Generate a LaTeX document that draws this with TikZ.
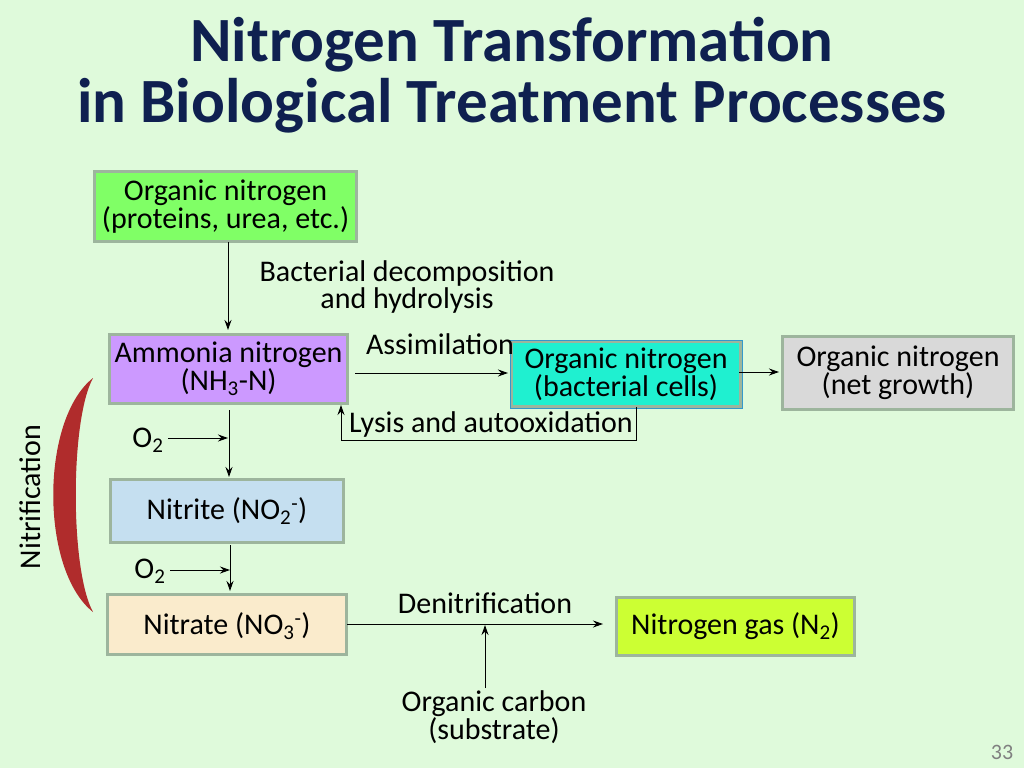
\documentclass[tikz,border=0pt]{standalone}
\usepackage{fontspec}
\setmainfont{Carlito}
\usetikzlibrary{arrows.meta}
\definecolor{bg}{HTML}{DFFADB}
\definecolor{navy}{HTML}{0F2050}
\definecolor{shad}{HTML}{9DB59D}
\definecolor{cgreen}{HTML}{80FF66}
\definecolor{cviolet}{RGB}{204,153,255}
\definecolor{cteal}{RGB}{31,240,208}
\definecolor{cblueb}{HTML}{3399CC}
\definecolor{cgrey}{RGB}{217,217,217}
\definecolor{cblue}{RGB}{197,223,240}
\definecolor{ctan}{RGB}{250,235,204}
\definecolor{clime}{RGB}{204,255,51}
\definecolor{cred}{RGB}{176,44,44}
\begin{document}
\begin{tikzpicture}[x=1pt,y=-1pt,
  box/.style={draw=shad,line width=3pt,inner sep=0pt,anchor=north west,align=center},
  lab/.style={align=center,font=\fontsize{30}{25}\selectfont,inner sep=0pt},
  arr/.style={-{Stealth[length=10pt,width=7pt]},line width=1pt}]
\useasboundingbox[fill=bg] (0,0) rectangle (1024,768);
\node[font=\bfseries\fontsize{63}{63}\selectfont,text=navy] (t1) at (512,45) {Nitrogen Transformation};
\node[font=\bfseries\fontsize{63}{63}\selectfont,text=navy] (t2) at (512,106) {in Biological Treatment Processes};
\node[box,fill=cgreen,minimum width=262,minimum height=70] (org) at (93,170) {};
\node[lab] at (org.center) {Organic nitrogen\\(proteins, urea, etc.)};
\node[box,fill=cviolet,minimum width=238,minimum height=69] (amm) at (108,333) {};
\node[lab] at (amm.center) {Ammonia nitrogen\\(NH\textsubscript{3}-N)};
\node[box,fill=cteal,minimum width=229,minimum height=65] (bac) at (510,340) {};
\draw[cblueb,line width=1pt] (bac.north west) rectangle (bac.south east);
\node[lab] at (bac.center) {Organic nitrogen\\(bacterial cells)};
\node[box,fill=cgrey,minimum width=231,minimum height=73] (net) at (781,335) {};
\node[lab] at (net.center) {Organic nitrogen\\(net growth)};
\node[box,fill=cblue,minimum width=233,minimum height=63] (nit) at (109,478) {};
\node[lab] at (nit.center) {Nitrite (NO\textsubscript{2}\textsuperscript{-})};
\node[box,fill=ctan,minimum width=239,minimum height=60] (nat) at (106,593) {};
\node[lab] at ([yshift=-2]nat.center) {Nitrate (NO\textsubscript{3}\textsuperscript{-})};
\node[box,fill=clime,minimum width=238,minimum height=58] (gas) at (615,596) {};
\node[lab] at (gas.center) {Nitrogen gas (N\textsubscript{2})};
% arrows
\draw[arr] (228,242) -- (228,330);
\node[lab] (dec) at (407,287) {Bacterial decomposition\\and hydrolysis};
\draw[arr] (355,373) -- (508,373);
\node[lab] (ass) at (440,344) {Assimilation};
\draw[arr] (739,372) -- (779,372);
\coordinate (l1) at (636,407); \coordinate (l2) at (636,440); \coordinate (l3) at (341,440);
\draw[arr] (l1) -- (l2) -- (l3) -- (341,405);
\node[lab] (lys) at (491,424) {Lysis and autooxidation};
\draw[arr] (229,410) -- (229,477);
\node[lab] (o1) at (148,440) {O\textsubscript{2}};
\draw[arr] (168,438) -- (228,438);
\draw[arr] (230,545) -- (230,591);
\node[lab] (o2) at (150,571) {O\textsubscript{2}};
\draw[arr] (170,570) -- (230,570);
\draw[arr] (347,624) -- (603,624);
\node[lab] (den) at (485,603) {Denitrification};
\draw[arr] (485,688) -- (485,625);
\node[lab] (oc) at (494,717) {Organic carbon\\(substrate)};
\node[lab,rotate=90] (nf) at (30,497) {Nitrification};
\fill[cred] (93,378) .. controls (40,420) and (40,570) .. (93,612) .. controls (70,570) and (70,420) .. (93,378) -- cycle;
\node[font=\fontsize{22}{22}\selectfont,text=gray] (pg) at (1002,752) {33};
\end{tikzpicture}
\end{document}
